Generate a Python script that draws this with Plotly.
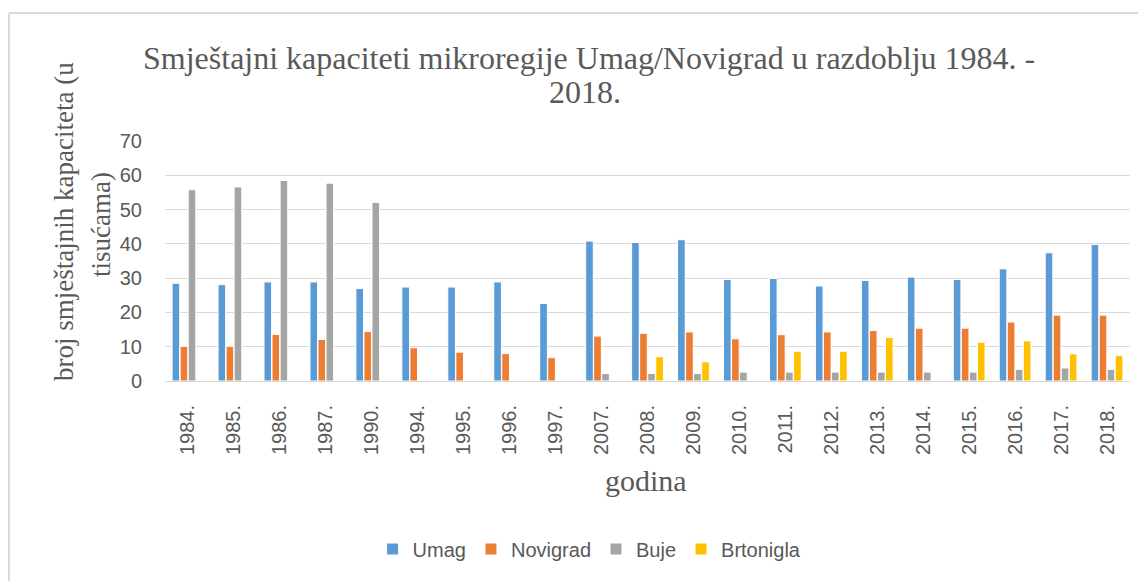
import plotly.graph_objects as go

# godine (kategorije na x-osi)
years = ["1984.", "1985.", "1986.", "1987.", "1990.", "1994.", "1995.", "1996.", "1997.",
         "2007.", "2008.", "2009.", "2010.", "2011.", "2012.", "2013.", "2014.", "2015.",
         "2016.", "2017.", "2018."]

# smještajni kapaciteti u tisućama, očitano s grafa
umag = [28.5, 28.1, 28.9, 28.9, 27.0, 27.4, 27.4, 28.9, 22.6,
        40.8, 40.4, 41.2, 29.6, 29.9, 27.7, 29.3, 30.3, 29.6, 32.7, 37.4, 39.8]
novigrad = [10.1, 10.1, 13.6, 12.1, 14.4, 9.7, 8.4, 8.0, 6.8,
            13.1, 13.9, 14.3, 12.3, 13.5, 14.3, 14.7, 15.4, 15.4, 17.2, 19.2, 19.2]
buje = [55.8, 56.6, 58.5, 57.7, 52.1, None, None, None, None,
        2.2, 2.2, 2.2, 2.6, 2.6, 2.6, 2.6, 2.6, 2.6, 3.4, 3.8, 3.4]
brtonigla = [None, None, None, None, None, None, None, None, None,
             None, 7.1, 5.6, None, 8.7, 8.7, 12.7, None, 11.3, 11.7, 7.9, 7.5]

series = [
    ("Umag", umag, "#5B9BD5"),
    ("Novigrad", novigrad, "#ED7D31"),
    ("Buje", buje, "#A5A5A5"),
    ("Brtonigla", brtonigla, "#FFC000"),
]

SERIF = "Liberation Serif, Times New Roman, serif"
SANS = "Liberation Sans, Arial, sans-serif"
GREY = "#595959"

fig = go.Figure()
for name, vals, col in series:
    fig.add_trace(go.Bar(
        x=years, y=vals, name=name,
        marker=dict(color=col, line=dict(color="white", width=1)),
    ))

fig.update_layout(
    width=1146, height=581,
    paper_bgcolor="white", plot_bgcolor="white",
    margin=dict(l=157, r=24, t=133, b=208),
    barmode="group", bargap=0.30, bargroupgap=0.05,
    showlegend=True,
    legend=dict(
        orientation="h", x=0.44, xanchor="center", y=-0.70, yanchor="middle",
        font=dict(family=SANS, size=20, color=GREY),
        itemwidth=30, traceorder="normal",
    ),
    font=dict(family=SANS, color=GREY),
)

fig.update_xaxes(
    type="category", tickangle=-90,
    tickfont=dict(family=SANS, size=20, color=GREY),
    showline=True, linecolor="#D9D9D9", linewidth=1,
    showgrid=False, ticks="", ticklabelstandoff=15,
)
fig.update_yaxes(
    range=[0, 70], dtick=10,
    tickfont=dict(family=SANS, size=20, color=GREY),
    showgrid=True, gridcolor="#D9D9D9", gridwidth=1,
    zeroline=False, showline=False, ticks="", ticklabelstandoff=22,
)

# tekstovi (naslov, naslovi osi) kao zasebni retci, kao u Excelu
texts = [
    ("Smještajni kapaciteti mikroregije Umag/Novigrad u razdoblju 1984. -", 0.4394, 1.346, 0, 32),
    ("2018.", 0.435, 1.204, 0, 32),
    ("broj smještajnih kapaciteta (u", -0.1047, 0.667, -90, 27),
    ("tisućama)", -0.0663, 0.65, -90, 27),
    ("godina", 0.498, -0.4125, 0, 30),
]
for txt, x, y, ang, size in texts:
    fig.add_annotation(
        text=txt, xref="paper", yref="paper", x=x, y=y,
        xanchor="center", yanchor="middle", textangle=ang, showarrow=False,
        font=dict(family=SERIF, size=size, color=GREY),
    )

# okvir grafikona (vidljivi lijevi i gornji rub)
fig.add_shape(type="line", xref="paper", yref="paper",
              x0=-0.1617, x1=1.1, y0=1.5333, y1=1.5333,
              line=dict(color="#D9D9D9", width=2))
fig.add_shape(type="line", xref="paper", yref="paper",
              x0=-0.1617, x1=-0.1617, y0=1.5333, y1=-0.9,
              line=dict(color="#D9D9D9", width=2))

fig.write_html("out.html")
